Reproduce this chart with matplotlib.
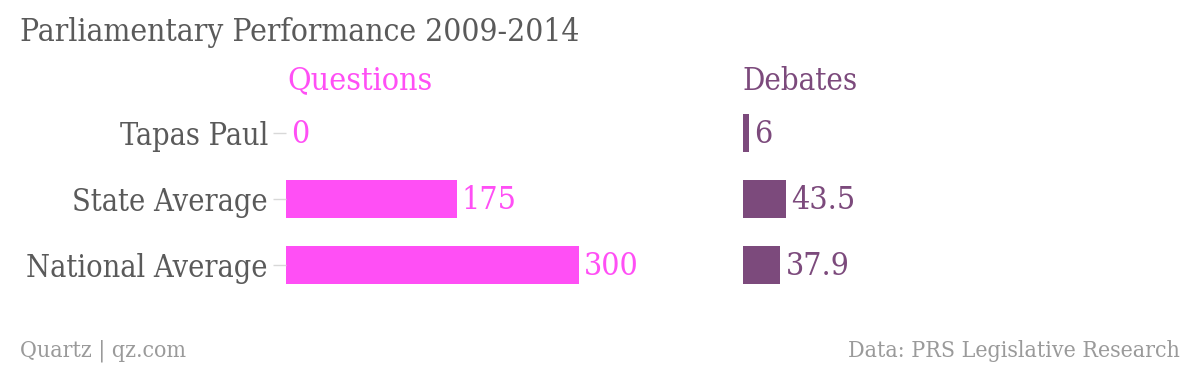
import matplotlib
matplotlib.use("Agg")
import matplotlib.pyplot as plt

# data
categories = ["Tapas Paul", "State Average", "National Average"]
questions = [0, 175, 300]
debates = [6, 43.5, 37.9]
question_labels = ["0", "175", "300"]
debate_labels = ["6", "43.5", "37.9"]

W, H = 1200, 366
PINK = "#ff4ff5"
PURPLE = "#7c4a7c"
GREY = "#5a5a5a"
FOOT = "#9a9a9a"

plt.rcParams["font.family"] = ["DejaVu Serif"]
plt.rcParams["font.stretch"] = "condensed"

fig = plt.figure(figsize=(W / 100, H / 100), dpi=100)


def px_axes(x0, y0, x1, y1):
    # pixel box (top-left origin) -> figure fraction
    return fig.add_axes([x0 / W, 1 - y1 / H, (x1 - x0) / W, (y1 - y0) / H])


def panel(ax, values, labels, color, xmax, show_cats):
    ypos = list(range(len(values)))
    ax.barh(ypos, values, height=0.59, color=color)
    for y, v, lab in zip(ypos, values, labels):
        ax.text(v + 5, y + 0.02, lab, color=color, fontsize=23, va="center", ha="left")
    ax.set_xlim(0, xmax)
    ax.set_ylim(len(values) - 0.5, -0.5)
    for s in ax.spines.values():
        s.set_visible(False)
    ax.set_xticks([])
    ax.set_yticks(ypos)
    if show_cats:
        ax.set_yticklabels(categories, fontsize=22, color=GREY)
        ax.tick_params(axis="y", length=9.5, width=1, color="#d8d8d8", pad=3.5)
    else:
        ax.tick_params(axis="y", length=0, labelleft=False)
    ax.patch.set_alpha(0)


ax_q = px_axes(286, 100, 700, 298)
panel(ax_q, questions, question_labels, PINK, 424, True)

ax_d = px_axes(743, 100, 1180, 298)
panel(ax_d, debates, debate_labels, PURPLE, 442, False)

fig.text(20 / W, 1 - 33 / H, "Parliamentary Performance 2009-2014",
         fontsize=22.8, color=GREY, va="center", ha="left")
fig.text(287 / W, 1 - 81 / H, "Questions", fontsize=23, color=PINK,
         va="center", ha="left")
fig.text(742 / W, 1 - 81 / H, "Debates", fontsize=22.3, color=PURPLE,
         va="center", ha="left")

fig.text(20 / W, 1 - 351 / H, "Quartz | qz.com", fontsize=16.6,
         color=FOOT, va="center", ha="left")
fig.text(1180 / W, 1 - 351 / H, "Data: PRS Legislative Research", fontsize=16.6,
         color=FOOT, va="center", ha="right")

fig.savefig("out.png", dpi=100, facecolor="white")
